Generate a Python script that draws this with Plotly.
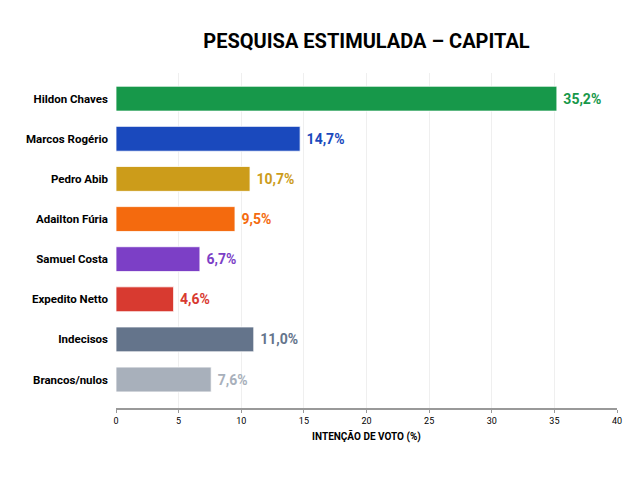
import plotly.graph_objects as go

# ── data ────────────────────────────────────────────────────────────────
candidates = [
    "Hildon Chaves", "Marcos Rogério", "Pedro Abib", "Adailton Fúria",
    "Samuel Costa", "Expedito Netto", "Indecisos", "Brancos/nulos",
]
votes = [35.2, 14.7, 10.7, 9.5, 6.7, 4.6, 11.0, 7.6]
colors = [
    "#17984a", "#1a49bd", "#cc9c1a", "#f46a0e",
    "#7c3fc6", "#d83a30", "#64748b", "#a8b0bb",
]
x_ticks = [0, 5, 10, 15, 20, 25, 30, 35, 40]

FONT = "Roboto"

# rótulos no formato brasileiro (vírgula decimal)
labels = [" " + f"{v:.1f}%".replace(".", ",") for v in votes]

fig = go.Figure(
    go.Bar(
        x=votes,
        y=candidates,
        orientation="h",
        width=0.62,
        marker=dict(color=colors, line=dict(color="white", width=0.8)),
        text=labels,
        textposition="outside",
        textfont=dict(family=FONT, size=14, color=colors, weight=700),
        cliponaxis=False,
    )
)

fig.update_layout(
    width=640, height=480,
    paper_bgcolor="white", plot_bgcolor="white",
    margin=dict(l=108, r=31, t=65, b=80, autoexpand=False),
    title=dict(
        text="PESQUISA ESTIMULADA – CAPITAL",
        x=0.5, xref="paper", y=0.931, yanchor="middle", automargin=False,
        font=dict(family=FONT, size=20, color="black", weight=700),
    ),
    font=dict(family=FONT, color="black"),
    showlegend=False,
)
fig.update_xaxes(
    range=[0, 40], tickvals=x_ticks, automargin=False,
    showgrid=True, gridcolor="#efefef", gridwidth=1,
    showline=True, linecolor="#999999", linewidth=2,
    ticks="outside", tickcolor="#999999", ticklen=3,
    tickfont=dict(family=FONT, size=9, color="black"),
    title=dict(text="INTENÇÃO DE VOTO (%)",
               font=dict(family=FONT, size=10, color="black", weight=700), standoff=8),
    zeroline=False,
)
fig.update_yaxes(
    categoryorder="array", categoryarray=candidates,
    range=[7.71, -0.64], automargin=False,
    tickfont=dict(family=FONT, size=11.5, color="black", weight=700),
    ticklabelstandoff=7,
    showline=False, showgrid=False,
)

fig.write_html("out.html")
